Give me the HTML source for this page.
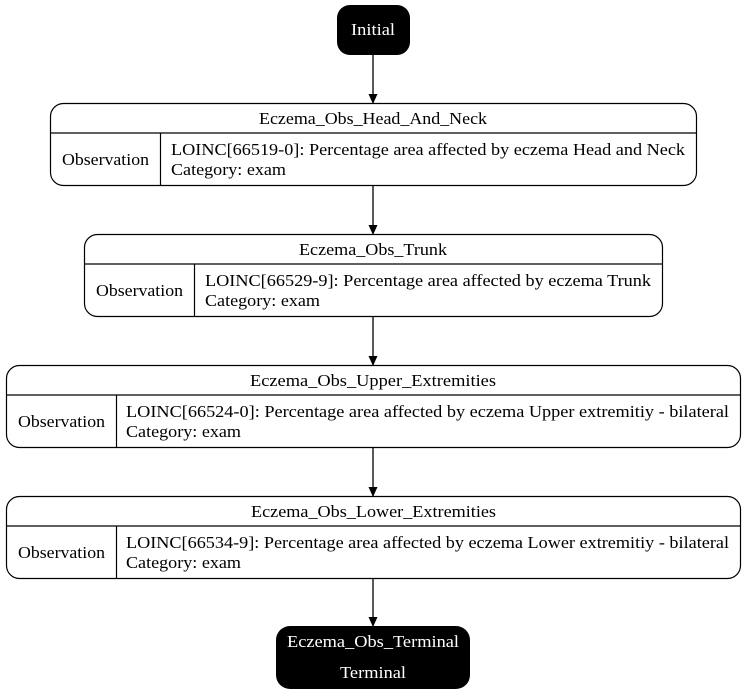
<!DOCTYPE html>
<html><head><meta charset="utf-8"><style>html,body{margin:0;padding:0;background:#fff}svg{display:block}text{font-family:"Liberation Serif",serif;font-size:16.5px}</style></head>
<body>
<svg width="747" height="696" viewBox="0 0 747 696" xmlns="http://www.w3.org/2000/svg">
<defs><marker id="a" markerWidth="10" markerHeight="10" refX="9" refY="5" orient="auto" markerUnits="userSpaceOnUse"><path d="M0,0.5 L10,5 L0,9.5 z" fill="#000"/></marker></defs>
<g stroke="#000" stroke-width="1.3" fill="none">
<line x1="373" y1="55" x2="373" y2="103" marker-end="url(#a)"/>
<line x1="373" y1="186" x2="373" y2="234" marker-end="url(#a)"/>
<line x1="373" y1="317" x2="373" y2="365" marker-end="url(#a)"/>
<line x1="373" y1="448" x2="373" y2="496" marker-end="url(#a)"/>
<line x1="373" y1="579" x2="373" y2="626" marker-end="url(#a)"/>
</g>
<rect x="337" y="5" width="73" height="50" rx="13" fill="#000"/>
<text x="351" y="35" fill="#fff" textLength="44" lengthAdjust="spacingAndGlyphs">Initial</text>

<g stroke="#000" stroke-width="1.2" fill="none">
<rect x="50.5" y="103.5" width="646" height="82" rx="13"/>
<line x1="50.5" y1="133" x2="696.5" y2="133"/><line x1="160.5" y1="133" x2="160.5" y2="185.5"/>
<rect x="84.5" y="234.5" width="578" height="82" rx="13"/>
<line x1="84.5" y1="264" x2="662.5" y2="264"/><line x1="194.5" y1="264" x2="194.5" y2="316.5"/>
<rect x="6.5" y="365.5" width="734" height="82" rx="13"/>
<line x1="6.5" y1="395" x2="740.5" y2="395"/><line x1="116.5" y1="395" x2="116.5" y2="447.5"/>
<rect x="6.5" y="496.5" width="734" height="82" rx="13"/>
<line x1="6.5" y1="526" x2="740.5" y2="526"/><line x1="116.5" y1="526" x2="116.5" y2="578.5"/>
</g>
<text x="259" y="124" textLength="228" lengthAdjust="spacingAndGlyphs">Eczema_Obs_Head_And_Neck</text>
<text x="62" y="165" textLength="87" lengthAdjust="spacingAndGlyphs">Observation</text>
<text x="171" y="155" textLength="514" lengthAdjust="spacingAndGlyphs">LOINC[66519-0]: Percentage area affected by eczema Head and Neck</text>
<text x="171" y="175" textLength="115" lengthAdjust="spacingAndGlyphs">Category: exam</text>

<text x="299" y="255" textLength="148" lengthAdjust="spacingAndGlyphs">Eczema_Obs_Trunk</text>
<text x="96" y="296" textLength="87" lengthAdjust="spacingAndGlyphs">Observation</text>
<text x="205" y="286" textLength="446" lengthAdjust="spacingAndGlyphs">LOINC[66529-9]: Percentage area affected by eczema Trunk</text>
<text x="205" y="306" textLength="115" lengthAdjust="spacingAndGlyphs">Category: exam</text>

<text x="250" y="386" textLength="246" lengthAdjust="spacingAndGlyphs">Eczema_Obs_Upper_Extremities</text>
<text x="18" y="427" textLength="87" lengthAdjust="spacingAndGlyphs">Observation</text>
<text x="126" y="417" textLength="603" lengthAdjust="spacingAndGlyphs">LOINC[66524-0]: Percentage area affected by eczema Upper extremitiy - bilateral</text>
<text x="126" y="437" textLength="115" lengthAdjust="spacingAndGlyphs">Category: exam</text>

<text x="251" y="517" textLength="245" lengthAdjust="spacingAndGlyphs">Eczema_Obs_Lower_Extremities</text>
<text x="18" y="558" textLength="87" lengthAdjust="spacingAndGlyphs">Observation</text>
<text x="126" y="548" textLength="603" lengthAdjust="spacingAndGlyphs">LOINC[66534-9]: Percentage area affected by eczema Lower extremitiy - bilateral</text>
<text x="126" y="568" textLength="115" lengthAdjust="spacingAndGlyphs">Category: exam</text>

<rect x="276" y="626" width="194" height="63" rx="14" fill="#000"/>
<text x="287" y="647" fill="#fff" textLength="172" lengthAdjust="spacingAndGlyphs">Eczema_Obs_Terminal</text>
<text x="340" y="678" fill="#fff" textLength="66" lengthAdjust="spacingAndGlyphs">Terminal</text>
</svg>
</body></html>
